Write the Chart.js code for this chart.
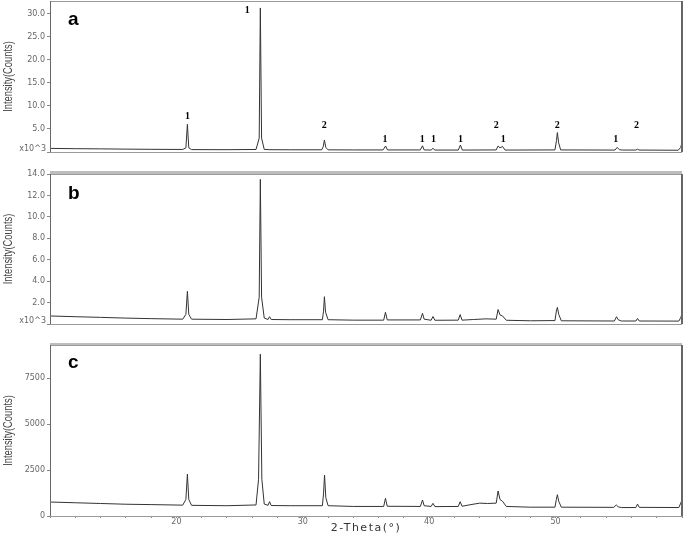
<!DOCTYPE html>
<html lang="en">
<head>
<meta charset="UTF-8">
<title>XRD patterns a, b, c</title>
<script src="https://cdn.jsdelivr.net/npm/chart.js"></script>
<style>
  body { margin: 0; background: #fff; overflow: hidden; }
  #wrap { position: relative; width: 685px; height: 533px; }
  canvas { position: absolute; left: 0; }
  #panelA { top: 0; }
  #panelB { top: 168px; }
  #panelC { top: 340px; }
  .sep { position: absolute; left: 50px; width: 632px; height: 3px; background: #bdbdbd; }
</style>
</head>
<body>
<div id="wrap">
  <div class="sep" style="top:171px"></div>
  <div class="sep" style="top:343px"></div>
  <canvas id="panelA" width="685" height="172"></canvas>
  <canvas id="panelB" width="685" height="176"></canvas>
  <canvas id="panelC" width="685" height="195"></canvas>
</div>

<script>
// 2-theta axis
const xTickLabels = [20, 30, 40, 50];

// intensity ticks per panel
const yTicksA = [0, 5, 10, 15, 20, 25, 30];
const yTicksB = [0, 2, 4, 6, 8, 10, 12, 14];
const yTicksC = [0, 2500, 5000, 7500];

// panel a  (counts x10^3)
const thetaA  = [10.0, 12.0, 14.0, 16.0, 18.0, 20.5, 20.75, 20.87, 20.98, 21.2, 24.0, 26.3, 26.55, 26.64, 26.74, 26.95, 27.4, 29.0,
                 31.5, 31.62, 31.71, 31.82, 32.0, 34.0, 36.35, 36.55, 36.7, 39.3, 39.47, 39.6, 40.15, 40.3, 40.45, 42.3, 42.47, 42.62,
                 45.3, 45.45, 45.6, 45.8, 46.0, 49.95, 50.07, 50.14, 50.24, 50.4, 54.7, 54.87, 55.05, 55.3, 56.35, 56.48, 56.6, 59.7, 59.9, 60.0];
const countsA = [0.78, 0.72, 0.68, 0.62, 0.58, 0.55, 0.9, 6.0, 0.9, 0.52, 0.5, 0.55, 3.0, 31.2, 3.0, 0.55, 0.5, 0.48,
                 0.48, 1.2, 2.6, 1.0, 0.47, 0.45, 0.45, 1.3, 0.45, 0.45, 1.35, 0.45, 0.42, 0.8, 0.42, 0.42, 1.5, 0.42,
                 0.45, 1.3, 0.9, 1.2, 0.42, 0.45, 2.5, 4.2, 2.0, 0.45, 0.42, 1.0, 0.5, 0.42, 0.42, 0.6, 0.42, 0.38, 1.0, 2.1];

// phase marks over panel a
const markTheta = [20.87, 25.6, 31.7, 36.5, 39.45, 40.35, 42.47, 45.3, 45.85, 50.14, 54.75, 56.4];
const markLevel = [7.7, 30.6, 5.8, 2.7, 2.7, 2.7, 2.7, 5.8, 2.7, 5.8, 2.7, 5.8];
const markText  = ['1', '1', '2', '1', '1', '1', '1', '2', '1', '2', '1', '2'];

// panel b  (counts x10^3)
const thetaB  = [10.0, 12.0, 14.0, 16.0, 18.0, 20.5, 20.75, 20.87, 20.98, 21.2, 24.0, 26.3, 26.55, 26.64, 26.74, 26.95, 27.25, 27.37, 27.5, 29.0,
                 31.55, 31.64, 31.71, 31.8, 32.0, 34.0, 36.4, 36.54, 36.68, 39.3, 39.47, 39.6, 40.15, 40.3, 40.45, 42.3, 42.45, 42.6,
                 43.5, 44.5, 45.3, 45.45, 45.6, 45.8, 46.1, 48.0, 49.95, 50.06, 50.14, 50.25, 50.45, 54.65, 54.82, 54.95, 55.2,
                 56.35, 56.48, 56.62, 59.75, 59.9, 60.0];
const countsB = [0.75, 0.68, 0.62, 0.55, 0.5, 0.45, 0.9, 3.05, 0.9, 0.45, 0.42, 0.48, 2.5, 13.5, 2.5, 0.55, 0.42, 0.68, 0.42, 0.4,
                 0.4, 1.2, 2.55, 1.1, 0.4, 0.36, 0.36, 1.1, 0.38, 0.38, 1.0, 0.45, 0.35, 0.7, 0.35, 0.36, 0.88, 0.36,
                 0.42, 0.48, 0.45, 1.35, 0.85, 0.75, 0.35, 0.3, 0.32, 1.2, 1.55, 0.9, 0.3, 0.28, 0.68, 0.4, 0.28,
                 0.28, 0.52, 0.28, 0.27, 0.6, 0.95];

// panel c  (counts)
const thetaC  = [10.0, 12.0, 14.0, 16.0, 18.0, 20.5, 20.75, 20.87, 20.98, 21.2, 24.0, 26.3, 26.5, 26.64, 26.76, 26.95, 27.25, 27.37, 27.5, 29.0,
                 31.55, 31.64, 31.72, 31.82, 32.0, 34.0, 36.4, 36.54, 36.68, 39.3, 39.47, 39.6, 40.15, 40.3, 40.45, 42.3, 42.45, 42.6,
                 43.3, 44.0, 44.6, 45.3, 45.45, 45.6, 45.8, 46.1, 48.0, 49.95, 50.06, 50.14, 50.25, 50.45, 54.6, 54.8, 54.95, 55.2,
                 56.35, 56.48, 56.62, 59.75, 59.9, 60.0];
const countsC = [760, 720, 680, 640, 620, 590, 900, 2280, 900, 580, 560, 600, 2000, 8800, 2000, 650, 580, 780, 570, 560,
                 560, 1200, 2230, 1000, 560, 520, 520, 960, 530, 520, 870, 560, 520, 690, 510, 520, 780, 530,
                 620, 700, 680, 700, 1360, 900, 800, 520, 480, 480, 900, 1160, 800, 480, 470, 600, 500, 460,
                 460, 650, 470, 460, 700, 870];

const tickFont = { family: 'DejaVu Sans', size: 8 };

// frame, titles, panel letter, "x10^3" and peak marks
const decor = {
    id: 'decor',
    afterDraw(chart, args, o) {
        const { ctx, chartArea: a } = chart;
        ctx.save();
        // frame
        ctx.strokeStyle = '#9a9a9a';
        ctx.lineWidth = 1;
        ctx.strokeRect(a.left + 0.5, a.top + 0.5, a.right - a.left - 1, a.bottom - a.top);
        ctx.strokeStyle = '#666';
        ctx.beginPath();
        ctx.moveTo(a.left + 0.5, a.top);
        ctx.lineTo(a.left + 0.5, a.bottom);
        ctx.stroke();
        ctx.lineWidth = 2;
        ctx.beginPath();
        ctx.moveTo(a.right, a.top);
        ctx.lineTo(a.right, a.bottom);
        ctx.stroke();

        // y title, condensed
        ctx.save();
        ctx.translate(9, (a.top + a.bottom) / 2);
        ctx.rotate(-Math.PI / 2);
        ctx.scale(0.78, 1);
        ctx.fillStyle = '#444';
        ctx.font = '12px "Liberation Sans", Arial, sans-serif';
        ctx.textAlign = 'center';
        ctx.textBaseline = 'middle';
        ctx.fillText('Intensity(Counts)', 0, 0);
        ctx.restore();

        // panel letter
        ctx.fillStyle = '#000';
        ctx.font = 'bold 19px "Liberation Sans", Arial, sans-serif';
        ctx.textAlign = 'left';
        ctx.textBaseline = 'alphabetic';
        ctx.fillText(o.letter, a.left + 18, a.top + o.letterDy);

        if (o.unit) {
            ctx.fillStyle = '#666';
            ctx.font = '8px "DejaVu Sans"';
            ctx.textAlign = 'right';
            ctx.textBaseline = 'bottom';
            ctx.fillText('x10^3', a.left - 4, a.bottom + 1);
        }

        if (o.xTitle) {
            ctx.fillStyle = '#333';
            ctx.font = '11px "DejaVu Sans"';
            ctx.letterSpacing = '1.5px';
            ctx.textAlign = 'center';
            ctx.textBaseline = 'middle';
            ctx.fillText('2-Theta(°)', (a.left + a.right) / 2, a.bottom + 12.5);
            ctx.letterSpacing = '0px';
        }

        if (o.marks) {
            const xs = chart.scales.x, ys = chart.scales.y;
            ctx.fillStyle = '#000';
            ctx.font = 'bold 10px "Liberation Serif", serif';
            ctx.textAlign = 'center';
            ctx.textBaseline = 'middle';
            markTheta.forEach((t, i) => {
                ctx.fillText(markText[i], xs.getPixelForValue(t), ys.getPixelForValue(markLevel[i]));
            });
        }
        ctx.restore();
    }
};

function makePanel(id, theta, counts, cfg) {
    const pts = theta.map((t, i) => ({ x: t, y: counts[i] }));
    return new Chart(document.getElementById(id), {
        type: 'line',
        data: {
            datasets: [{
                data: pts,
                borderColor: '#333',
                borderWidth: 1,
                pointRadius: 0,
                tension: 0
            }]
        },
        options: {
            responsive: false,
            animation: false,
            layout: { padding: { top: cfg.padTop, bottom: cfg.padBottom, left: 0, right: 3 } },
            plugins: {
                legend: { display: false },
                tooltip: { enabled: false },
                decor: { letter: cfg.letter, letterDy: cfg.letterDy, unit: cfg.unit, marks: cfg.marks, xTitle: cfg.showX }
            },
            scales: {
                x: {
                    type: 'linear',
                    min: 10,
                    max: 60,
                    display: cfg.showX,
                    afterFit(s) { s.height = 19; s.paddingLeft = 0; s.paddingRight = 0; },
                    border: { display: true, color: '#888' },
                    grid: { drawOnChartArea: false, tickLength: 2, color: '#888' },
                    ticks: {
                        stepSize: 2,
                        autoSkip: false,
                        maxRotation: 0,
                        padding: -1,
                        color: '#666',
                        font: tickFont,
                        callback: v => xTickLabels.includes(v) ? String(v) : ''
                    }
                },
                y: {
                    min: 0,
                    max: cfg.yMax,
                    afterFit(s) { s.width = 50; s.paddingTop = 0; s.paddingBottom = 0; },
                    afterBuildTicks(s) { s.ticks = cfg.yTicks.map(v => ({ value: v })); },
                    border: { display: true, color: '#666' },
                    grid: { drawOnChartArea: false, tickLength: 3, color: '#888' },
                    ticks: {
                        padding: 2,
                        color: '#666',
                        font: tickFont,
                        callback: cfg.tickFmt
                    }
                }
            }
        },
        plugins: [decor]
    });
}

const thousands = v => v === 0 ? '' : v.toFixed(1);

makePanel('panelA', thetaA, countsA, {
    padTop: 1, padBottom: 1, yMax: 32.7, yTicks: yTicksA, tickFmt: thousands,
    letter: 'a', letterDy: 24, unit: true, marks: true, showX: false
});
makePanel('panelB', thetaB, countsB, {
    padTop: 6, padBottom: 1, yMax: 14, yTicks: yTicksB, tickFmt: thousands,
    letter: 'b', letterDy: 25, unit: true, marks: false, showX: false
});
makePanel('panelC', thetaC, countsC, {
    padTop: 5, padBottom: 0, yMax: 9300, yTicks: yTicksC, tickFmt: v => String(v),
    letter: 'c', letterDy: 23, unit: false, marks: false, showX: true
});
</script>
</body>
</html>
